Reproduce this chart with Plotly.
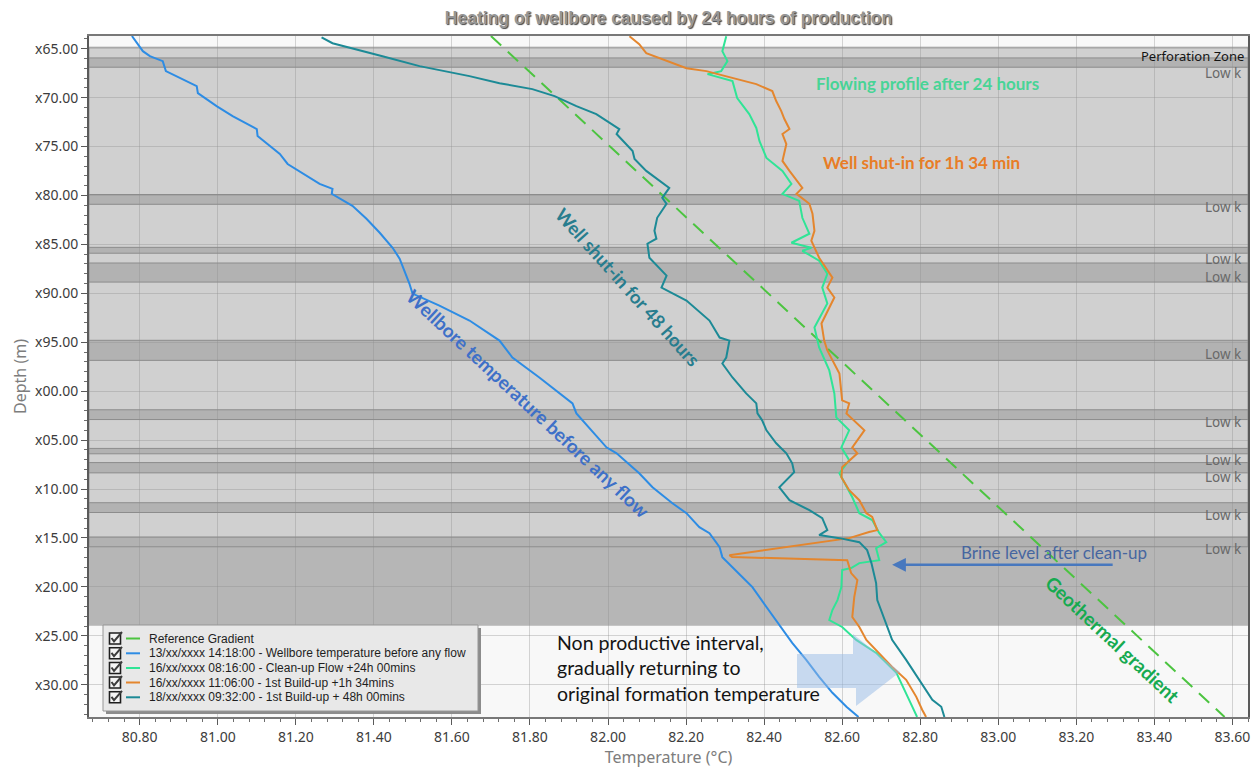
import plotly.graph_objects as go

# ---------------- data (depth in m below reference "x" hundreds, temperature in degC) ----------------
ref_depth = [63.7, 133.3]
ref_temp = [81.70, 83.58]

blue_depth = [63.7, 65.25, 65.76, 66.27, 67.29, 68.82, 69.54, 70.86, 71.88, 73.21, 73.92, 75.76, 76.78,
              78.81, 79.32, 79.83, 81.06, 82.38, 83.81, 85.34, 86.46, 87.68, 89.0, 90.03, 91.25, 92.78,
              94.11, 94.83, 96.56, 98.6, 101.25, 102.27, 105.74, 106.35, 108.39, 109.82, 111.45, 112.47,
              113.9, 114.51, 115.94, 116.96, 119.0, 120.02, 122.06, 123.9, 125.73, 127.46, 129.2, 130.83,
              132.26, 133.3]
blue_temp = [80.780, 80.808, 80.826, 80.859, 80.867, 80.946, 80.949, 80.997, 81.038, 81.100, 81.102, 81.159,
             81.179, 81.261, 81.294, 81.292, 81.345, 81.381, 81.415, 81.448, 81.466, 81.479, 81.491, 81.499,
             81.568, 81.645, 81.696, 81.722, 81.755, 81.824, 81.909, 81.919, 81.996, 82.022, 82.080, 82.114,
             82.165, 82.201, 82.234, 82.260, 82.286, 82.293, 82.344, 82.370, 82.406, 82.439, 82.472, 82.508,
             82.541, 82.575, 82.611, 82.642]

mint_depth = [63.73, 65.25, 66.27, 67.29, 67.6, 68.31, 70.05, 71.68, 73.1, 74.43, 76.16, 77.49, 78.81, 79.83,
              80.55, 82.28, 83.91, 84.83, 85.34, 85.65, 86.67, 88.0, 89.41, 91.04, 93.49, 95.53, 97.88,
              100.23, 102.68, 104.0, 105.74, 107.06, 108.39, 110.84, 112.47, 112.86, 113.17, 114.49, 115.43,
              116.04, 117.27, 117.57, 118.08, 118.29, 120.02, 121.35, 122.37, 123.39, 124.1, 125.42, 126.75,
              128.79, 130.83, 132.26, 133.3]
mint_temp = [82.303, 82.293, 82.306, 82.290, 82.255, 82.319, 82.331, 82.362, 82.380, 82.388, 82.406, 82.447,
             82.470, 82.447, 82.490, 82.498, 82.516, 82.470, 82.521, 82.498, 82.541, 82.562, 82.549, 82.562,
             82.529, 82.541, 82.567, 82.580, 82.585, 82.618, 82.598, 82.618, 82.593, 82.626, 82.644, 82.662,
             82.677, 82.695, 82.713, 82.687, 82.695, 82.644, 82.623, 82.600, 82.598, 82.588, 82.575, 82.567,
             82.600, 82.636, 82.687, 82.739, 82.764, 82.780, 82.792]

orange_depth = [63.73, 64.54, 65.46, 65.97, 66.48, 66.99, 67.29, 68.01, 68.62, 69.33, 70.35, 71.37, 72.19,
                73.21, 73.72, 74.74, 76.47, 77.49, 79.22, 79.83, 80.85, 81.87, 83.61, 84.63, 86.36, 88.4,
                89.41, 90.43, 93.08, 94.83, 95.84, 98.19, 100.94, 101.25, 102.27, 104.0, 105.74, 106.35,
                107.78, 108.8, 110.12, 111.14, 112.47, 112.86, 114.2, 114.39, 115.02, 116.76, 116.95, 117.27,
                118.59, 119.31, 121.04, 123.08, 124.1, 125.42, 126.75, 128.18, 129.5, 131.24, 132.56, 133.3]
orange_temp = [82.055, 82.080, 82.098, 82.132, 82.165, 82.201, 82.252, 82.319, 82.380, 82.421, 82.431, 82.444,
               82.452, 82.465, 82.447, 82.457, 82.447, 82.465, 82.498, 82.483, 82.516, 82.524, 82.529, 82.521,
               82.541, 82.575, 82.562, 82.580, 82.547, 82.554, 82.562, 82.593, 82.600, 82.618, 82.611, 82.657,
               82.626, 82.639, 82.600, 82.598, 82.618, 82.644, 82.662, 82.677, 82.690, 82.669, 82.618, 82.311,
               82.318, 82.613, 82.623, 82.639, 82.631, 82.626, 82.644, 82.662, 82.695, 82.728, 82.764, 82.790,
               82.805, 82.815]

teal_depth = [63.83, 64.44, 65.76, 66.78, 67.8, 68.52, 69.13, 69.84, 70.86, 71.68, 73.21, 73.72, 75.45, 76.26,
              77.49, 79.22, 80.24, 80.85, 82.28, 83.61, 84.42, 84.93, 86.36, 87.68, 88.19, 89.41, 90.74,
              92.78, 94.52, 94.83, 96.56, 97.17, 98.6, 100.23, 101.25, 102.27, 102.98, 104.0, 105.33, 106.35,
              107.37, 108.29, 109.82, 111.14, 112.16, 112.98, 114.2, 114.71, 115.02, 115.43, 116.24, 117.57,
              119.61, 121.35, 123.69, 125.42, 127.46, 129.5, 131.54, 132.26, 133.3]
teal_temp = [81.266, 81.294, 81.422, 81.517, 81.645, 81.722, 81.806, 81.863, 81.919, 81.970, 82.029, 82.022,
             82.063, 82.068, 82.098, 82.157, 82.139, 82.150, 82.126, 82.119, 82.124, 82.101, 82.106, 82.139,
             82.150, 82.137, 82.201, 82.260, 82.286, 82.311, 82.303, 82.293, 82.319, 82.354, 82.380, 82.383,
             82.395, 82.406, 82.431, 82.457, 82.472, 82.477, 82.439, 82.465, 82.516, 82.549, 82.562, 82.541,
             82.593, 82.644, 82.664, 82.675, 82.687, 82.690, 82.713, 82.728, 82.764, 82.797, 82.831, 82.854,
             82.862]

series_names = ["Reference Gradient",
                "13/xx/xxxx 14:18:00 - Wellbore temperature before any flow",
                "16/xx/xxxx 08:16:00 - Clean-up Flow +24h 00mins",
                "16/xx/xxxx 11:06:00 - 1st Build-up +1h 34mins",
                "18/xx/xxxx 09:32:00 - 1st Build-up + 48h 00mins"]
series_colors = ["rgb(76,196,64)", "rgb(45,140,228)", "rgb(48,228,150)", "rgb(228,134,46)", "rgb(28,138,150)"]
series_depths = [ref_depth, blue_depth, mint_depth, orange_depth, teal_depth]
series_temps = [ref_temp, blue_temp, mint_temp, orange_temp, teal_temp]

# zones (depth intervals)
perf_zone = (64.85, 123.9)
lower_zone = (115.9, 123.9)
lowk_bands = [(65.94, 66.89), (79.9, 80.9), (85.3, 85.9), (86.9, 88.85), (94.8, 96.85), (101.9, 102.9),
              (105.85, 106.4), (107.3, 108.35), (111.4, 112.4), (114.9, 115.9)]
lowk_label_depths = [67.45, 81.13, 86.45, 88.3, 96.17, 103.15, 107.05, 108.8, 112.66, 116.15]

y_tickvals = list(range(65, 131, 5))
y_ticktext = ["x65.00", "x70.00", "x75.00", "x80.00", "x85.00", "x90.00", "x95.00", "x00.00", "x05.00",
              "x10.00", "x15.00", "x20.00", "x25.00", "x30.00"]
x_tickvals = [80.8 + 0.2 * i for i in range(15)]
x_ticktext = ["%.2f" % v for v in x_tickvals]

X_RANGE = [80.67, 83.64]
Y_RANGE = [133.3, 63.7]

# ---------------- layout helpers (pixel -> paper) ----------------
W, H = 1256, 772
PL, PR, PT, PB = 89, 1248, 36, 717


def px(x):
    return (x - PL) / (PR - PL)


def py(y):
    return (PB - y) / (PB - PT)


fig = go.Figure()

for i, (nm, col, dd, tt) in enumerate(zip(series_names, series_colors, series_depths, series_temps)):
    fig.add_trace(go.Scatter(
        x=tt, y=dd, mode="lines", name=nm, showlegend=False,
        line=dict(color=col, width=2, dash="14px,9px" if i == 0 else "solid"),
        hoverinfo="x+y+name"))

shapes = []
# perforation zone background
shapes.append(dict(type="rect", xref="paper", yref="y", x0=0, x1=1, y0=perf_zone[0], y1=perf_zone[1],
                   fillcolor="rgb(208,208,208)", line=dict(color="rgb(150,150,150)", width=1), layer="below"))
shapes.append(dict(type="rect", xref="paper", yref="y", x0=0, x1=1, y0=lower_zone[0], y1=lower_zone[1],
                   fillcolor="rgb(182,182,182)", line=dict(width=0), layer="below"))
for b0, b1 in lowk_bands:
    shapes.append(dict(type="rect", xref="paper", yref="y", x0=0, x1=1, y0=b0, y1=b1,
                       fillcolor="rgb(178,178,178)", line=dict(color="rgb(140,140,140)", width=1),
                       layer="below"))

# block arrow (light blue)
arrow_pts = [(797, 654), (853, 654), (853, 634), (900, 672), (856, 706), (856, 688), (797, 688)]
path = "M " + " L ".join("%.4f,%.4f" % (px(a), py(b)) for a, b in arrow_pts) + " Z"
shapes.append(dict(type="path", xref="paper", yref="paper", path=path,
                   fillcolor="rgba(150,185,230,0.5)", line=dict(width=0), layer="above"))

# manual legend box
LX0, LX1, LY0, LY1 = 103, 478, 625, 711
shapes.append(dict(type="rect", xref="paper", yref="paper", x0=px(LX0 + 3), x1=px(LX1 + 3), y0=py(LY0 + 3),
                   y1=py(LY1 + 3), fillcolor="rgb(140,140,140)", line=dict(width=0), layer="above"))
shapes.append(dict(type="rect", xref="paper", yref="paper", x0=px(LX0), x1=px(LX1), y0=py(LY0), y1=py(LY1),
                   fillcolor="rgb(232,232,232)", line=dict(color="rgb(150,150,150)", width=1), layer="above"))

annotations = []
row_y = [638.5, 653.3, 668, 682.5, 697.3]
for nm, col, ry in zip(series_names, series_colors, row_y):
    # legend sample line
    shapes.append(dict(type="line", xref="paper", yref="paper", x0=px(126), x1=px(140), y0=py(ry), y1=py(ry),
                       line=dict(color=col, width=2), layer="above"))
    # checkbox (square + check mark)
    shapes.append(dict(type="rect", xref="paper", yref="paper", x0=px(109.5), x1=px(120.5),
                       y0=py(ry + 5.5), y1=py(ry - 5.5), fillcolor="rgb(245,245,245)",
                       line=dict(color="rgb(30,30,30)", width=1.6), layer="above"))
    chk = [(111.5, ry - 0.5), (114, ry + 2.8), (122, ry - 6.5)]
    shapes.append(dict(type="path", xref="paper", yref="paper",
                       path="M " + " L ".join("%.5f,%.5f" % (px(a), py(b)) for a, b in chk),
                       line=dict(color="rgb(60,60,60)", width=2), layer="above"))
    annotations.append(dict(xref="paper", yref="paper", x=px(147), y=py(ry), text=nm, showarrow=False,
                            xanchor="left", yanchor="middle",
                            font=dict(family="Liberation Sans", size=12, color="rgb(30,30,30)")))

# Low k labels
for d in lowk_label_depths:
    annotations.append(dict(xref="paper", yref="y", x=px(1244), y=d, text="Low k", showarrow=False,
                            xanchor="right", yanchor="middle",
                            font=dict(family="Noto Sans", size=13.5, color="rgb(105,105,105)")))
annotations.append(dict(xref="paper", yref="y", x=px(1246), y=65.75, text="Perforation Zone", showarrow=False,
                        xanchor="right", yanchor="middle",
                        font=dict(family="Noto Sans", size=13, color="rgb(20,20,20)")))

# curve descriptions
annotations += [
    dict(x=82.818, y=68.52, text="Flowing profile after 24 hours", showarrow=False,
         font=dict(family="Lato", size=17, color="rgb(72,212,150)", weight="bold")),
    dict(x=82.803, y=76.67, text="Well shut-in for 1h 34 min", showarrow=False,
         font=dict(family="Lato", size=17, color="rgb(232,125,38)", weight="bold")),
    dict(x=82.05, y=89.4, text="Well shut-in for 48 hours", showarrow=False, textangle=48,
         font=dict(family="Lato", size=18.5, color="rgb(40,125,142)", weight="bold")),
    dict(x=81.795, y=101.3, text="Wellbore temperature before any flow", showarrow=False, textangle=43,
         font=dict(family="Lato", size=19, color="rgb(62,112,200)", weight="bold")),
    dict(x=83.294, y=125.4, text="Geothermal gradient", showarrow=False, textangle=43,
         font=dict(family="Lato", size=19, color="rgb(22,170,80)", weight="bold")),
    dict(x=83.143, y=116.53, text="Brine level after clean-up", showarrow=False,
         font=dict(family="Lato", size=17, color="rgb(70,102,160)")),
    dict(x=82.728, y=117.75, ax=83.297, ay=117.75, axref="x", ayref="y", text="", showarrow=True,
         arrowhead=2, arrowsize=1.1, arrowwidth=2.5, arrowcolor="rgb(72,120,190)"),
    dict(x=81.863, y=128.25, xanchor="left", align="left", showarrow=False,
         text="Non productive interval,<br>gradually returning to<br>original formation temperature",
         font=dict(family="Lato", size=19.5, color="rgb(20,20,20)")),
]

fig.update_layout(
    width=W, height=H,
    margin=dict(l=PL, r=W - PR, t=PT, b=H - PB, autoexpand=False),
    paper_bgcolor="white",
    plot_bgcolor="rgb(248,248,248)",
    showlegend=False,
    title=dict(text="<b>Heating of wellbore caused by 24 hours of production</b>",
               x=0.5, xref="paper", xanchor="center", y=1 - 18 / H, yref="container", yanchor="middle",
               font=dict(family="Liberation Sans", size=17.5, color="rgb(150,150,150)",
                         shadow="1px 1px 1px rgb(70,70,70)")),
    shapes=shapes,
    annotations=annotations,
    xaxis=dict(range=X_RANGE, tickmode="array", tickvals=x_tickvals, ticktext=x_ticktext,
               showgrid=True, gridcolor="rgba(140,140,140,0.35)", gridwidth=1, zeroline=False,
               showline=True, linecolor="rgb(120,120,120)", linewidth=1.5, mirror=True,
               ticks="outside", ticklen=6, tickcolor="rgb(90,90,90)",
               minor=dict(ticks="outside", ticklen=3, dtick=0.04, tick0=80.8, tickcolor="rgb(110,110,110)",
                          showgrid=False),
               tickfont=dict(family="Noto Sans", size=14, color="rgb(60,60,60)"),
               title=dict(text="Temperature (°C)", standoff=7,
                          font=dict(family="Noto Sans", size=16, color="rgb(125,125,125)"))),
    yaxis=dict(range=Y_RANGE, tickmode="array", tickvals=y_tickvals, ticktext=y_ticktext,
               showgrid=True, gridcolor="rgba(140,140,140,0.35)", gridwidth=1, zeroline=False,
               showline=True, linecolor="rgb(90,90,90)", linewidth=2, mirror=True,
               ticks="outside", ticklen=6, tickcolor="rgb(90,90,90)",
               minor=dict(ticks="outside", ticklen=3, dtick=1, tick0=65, tickcolor="rgb(110,110,110)",
                          showgrid=False),
               tickfont=dict(family="Noto Sans", size=14, color="rgb(60,60,60)"),
               title=dict(text="Depth (m)", standoff=4,
                          font=dict(family="Noto Sans", size=16, color="rgb(125,125,125)"))),
)

fig.write_html("out.html")
